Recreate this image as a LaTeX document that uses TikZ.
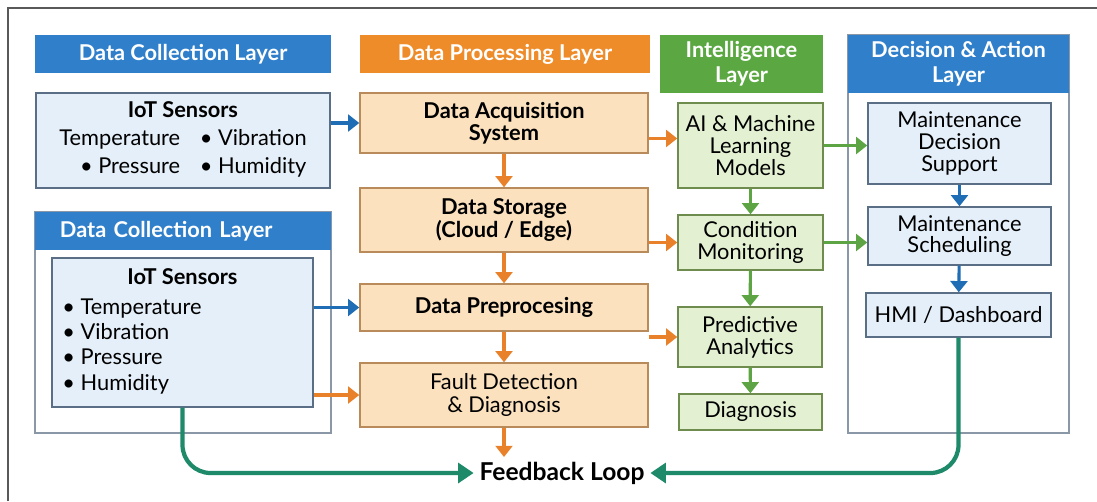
\documentclass[tikz,border=0pt]{standalone}
\usepackage{fontspec}
\setmainfont{Lato}
\usepackage{tikz}
\usetikzlibrary{arrows.meta, positioning, calc}
\usepackage{xcolor}
\definecolor{head-blue}{HTML}{2F7FCB}
\definecolor{head-orange}{HTML}{EF8C2A}
\definecolor{head-green}{HTML}{5BA843}
\definecolor{fill-blue}{HTML}{E4EFF9}
\definecolor{fill-orange}{HTML}{FBE1BE}
\definecolor{fill-green}{HTML}{E3F1D2}
\definecolor{line-blue}{HTML}{5A6E85}
\definecolor{line-orange}{HTML}{B98A5A}
\definecolor{line-green}{HTML}{6E8C4E}
\definecolor{arr-blue}{HTML}{1F6DB5}
\definecolor{arr-orange}{HTML}{E8812A}
\definecolor{arr-green}{HTML}{5DA544}
\definecolor{arr-teal}{HTML}{1E8A6A}
\definecolor{panel-grey}{HTML}{8A97A6}

\tikzset{
  layerhead/.style={fill=#1, text=white, inner sep=0pt, align=center,
    font=\fontsize{15.5}{17.5}\selectfont\bfseries},
  panelbox/.style={draw=panel-grey, fill=white, line width=0.9pt},
  sensbox/.style={draw=line-blue, fill=fill-blue, line width=1pt, inner sep=2pt,
    align=center, font=\fontsize{15.5}{17}\selectfont},
  procbox/.style={draw=line-orange, fill=fill-orange, line width=1pt, inner sep=2pt,
    align=center, minimum width=7.2cm, font=\fontsize{15.5}{16}\selectfont},
  smartbox/.style={draw=line-green, fill=fill-green, line width=1pt, inner sep=2pt,
    align=center, font=\fontsize{15.5}{15.5}\selectfont},
  actbox/.style={draw=line-blue, fill=fill-blue, line width=1pt, inner sep=2pt,
    align=center, minimum width=4.575cm, font=\fontsize{15.5}{15.5}\selectfont},
  flow/.style={line width=2.2pt, -{Triangle[length=8pt,width=12pt]}},
  bflow/.style={flow, arr-blue},
  oflow/.style={flow, arr-orange},
  gflow/.style={flow, arr-green},
  fbflow/.style={line width=3pt, arr-teal, rounded corners=20pt,
    -{Triangle[length=11pt,width=14pt]}}
}

\begin{document}
\begin{tikzpicture}[x=0.025cm, y=-0.025cm]
\useasboundingbox[fill=white] (0,0) rectangle (1097,501);
\draw[line width=1.2pt, black!65] (8,501) -- (8,8) -- (1097,8);

% data collection
\node[layerhead=head-blue, minimum width=7.4cm, minimum height=0.95cm] at (183,54) (colhead) {Data Collection Layer};
\node[sensbox, minimum width=7.35cm, minimum height=2.375cm] at (183,140.5) (sensA) {%
  \begin{tabular}{@{}r@{\hspace{0.9em}}l@{}}
  \multicolumn{2}{c}{\bfseries IoT Sensors}\\[3pt]
  Temperature & \textbullet~Vibration\\[3pt]
  \textbullet~Pressure & \textbullet~Humidity
  \end{tabular}};

\node[panelbox, minimum width=7.4cm, minimum height=5.525cm] at (183,322.5) (colpanel) {};
\node[layerhead=head-blue, minimum width=7.4cm, minimum height=0.95cm, text width=6.15cm, align=left] at (183,231) (colhead2) {Data Collection Layer};
\node[sensbox, minimum width=6.525cm, minimum height=3.725cm] at (182.5,332.5) (sensB) {%
  \begin{tabular}{@{}p{6cm}@{}}
  \multicolumn{1}{c}{\bfseries IoT Sensors}\\[4pt]
  \textbullet~Temperature\\[1pt]
  \textbullet~Vibration\\[1pt]
  \textbullet~Pressure\\[1pt]
  \textbullet~Humidity
  \end{tabular}};

% data processing
\node[layerhead=head-orange, minimum width=7.25cm, minimum height=0.95cm] at (505,54) (prochead) {Data Processing Layer};
\node[procbox, minimum height=1.5cm, font=\fontsize{15.5}{16}\selectfont\bfseries] at (504,123) (acq) {Data Acquisition\\System};
\node[procbox, minimum height=1.6cm, font=\fontsize{15.5}{16}\selectfont\bfseries] at (504,220) (stor) {Data Storage\\(Cloud / Edge)};
\node[procbox, minimum height=1.175cm, font=\fontsize{15.5}{16}\selectfont\bfseries] at (504,307.5) (prep) {Data Preprocesing};
\node[procbox, minimum height=1.6cm] at (504,395) (fault) {Fault Detection\\\& Diagnosis};

% intelligence
\node[layerhead=head-green, minimum width=4.075cm, minimum height=1.45cm] at (741.5,64) (aihead) {Intelligence\\Layer};
\node[smartbox, minimum width=3.625cm, minimum height=2.125cm] at (750.5,145.5) (ai) {AI \& Machine\\Learning\\Models};
\node[smartbox, minimum width=3.625cm, minimum height=1.375cm] at (750.5,242.5) (cond) {Condition\\Monitoring};
\node[smartbox, minimum width=3.6cm, minimum height=1.5cm] at (750,337) (pred) {Predictive\\Analytics};
\node[smartbox, minimum width=3.575cm, minimum height=0.9cm] at (750.5,412) (diag) {Diagnosis};

% decision and action
\node[panelbox, minimum width=5.525cm, minimum height=9.95cm] at (958.5,234) (actpanel) {};
\node[layerhead=head-blue, minimum width=5.525cm, minimum height=1.45cm] at (958.5,64) (acthead) {Decision \& Action\\Layer};
\node[actbox, minimum height=2.025cm] at (959.5,143.5) (mds) {Maintenance\\Decision\\Support};
\node[actbox, minimum height=1.45cm] at (959.5,236) (msch) {Maintenance\\Scheduling};
\node[actbox, minimum width=4.625cm, minimum height=1.1cm] at (958.5,315) (hmi) {HMI / Dashboard};

% feedback
\node[font=\fontsize{17.5}{19}\selectfont\bfseries, inner sep=4pt] at (562,473) (fb) {Feedback Loop};
\coordinate (fbtop) at (504,457);

% connectors
\draw[bflow] (sensA.east |- acq.west) -- (acq.west);
\draw[bflow] (sensB.east |- prep.west) -- (prep.west);
\draw[oflow] (sensB.east |- fault.west) -- (fault.west);
\draw[oflow] (acq) -- (stor);
\draw[oflow] (stor) -- (prep);
\draw[oflow] (prep) -- (fault);
\draw[oflow] (fault) -- (fbtop);
\draw[oflow] ([yshift=-11pt]acq.east) coordinate (acqout) -- (acqout -| ai.west);
\draw[oflow] (stor.east |- cond.west) -- (cond.west);
\draw[oflow] (prep.east |- pred.west) -- (pred.west);
\draw[gflow] (ai) -- (cond);
\draw[gflow] (cond) -- (pred);
\draw[gflow] (pred) -- (diag);
\draw[gflow] (ai.east) -- (ai.east -| mds.west);
\draw[gflow] (cond.east) -- (cond.east -| msch.west);
\draw[bflow] (mds) -- (msch);
\draw[bflow] (msch) -- (hmi);
\draw[fbflow] (sensB.south) |- (fb.west);
\draw[fbflow] (hmi.south) |- (fb.east);
\end{tikzpicture}
\end{document}
